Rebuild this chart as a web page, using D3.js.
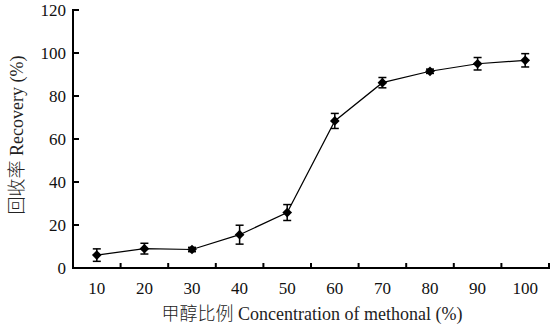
<!DOCTYPE html>
<html><head><meta charset="utf-8">
<script src="https://cdn.jsdelivr.net/npm/d3@7/dist/d3.min.js"></script>
<style>
body{margin:0;background:#fff;}
</style></head>
<body><svg id="c" width="557" height="331"></svg>
<script>
const categories = ["10","20","30","40","50","60","70","80","90","100"];
const recovery = [6.0, 9.0, 8.6, 15.5, 25.8, 68.4, 86.2, 91.5, 95.0, 96.6];
const errors = [2.9, 2.5, 1.0, 4.4, 3.7, 3.5, 2.4, 1.0, 2.9, 3.1];
const yTicks = [0, 20, 40, 60, 80, 100, 120];

const SERIF = '"Liberation Serif", "Times New Roman", "DejaVu Serif", serif';
const svg = d3.select("#c");
const L = 73, R = 549, T = 10, B = 268;
const x = d3.scaleBand().domain(categories).range([L, R]);
const y = d3.scaleLinear().domain([0, 120]).range([B, T]);

// axes
const xAxis = d3.axisBottom(x).tickSize(0).tickPadding(14);
const gx = svg.append("g").attr("transform", `translate(0,${B})`).call(xAxis);
gx.select(".domain").remove();
gx.attr("font-family", null).attr("font-size", null);
gx.selectAll("text").style("font-size", "17px").style("font-family", SERIF).attr("fill", "#111");

// tick marks at band boundaries, pointing inward
const bounds = categories.map(c => x(c) + x.bandwidth());
svg.append("g").selectAll("line").data(bounds).join("line")
  .attr("x1", d => d).attr("x2", d => d).attr("y1", B).attr("y2", B - 5)
  .attr("stroke", "#000").attr("stroke-width", 2);

const yAxis = d3.axisLeft(y).tickValues(yTicks).tickSize(0).tickPadding(7);
const gy = svg.append("g").attr("transform", `translate(${L},0)`).call(yAxis);
gy.select(".domain").remove();
gy.attr("font-family", null).attr("font-size", null);
gy.selectAll("text").style("font-size", "17px").style("font-family", SERIF).attr("fill", "#111");
svg.append("g").selectAll("line").data(yTicks).join("line")
  .attr("x1", L).attr("x2", L + 6).attr("y1", d => y(d)).attr("y2", d => y(d))
  .attr("stroke", "#000").attr("stroke-width", 2);

svg.append("line").attr("x1", L).attr("x2", L).attr("y1", T - 1).attr("y2", B + 1)
  .attr("stroke", "#000").attr("stroke-width", 2);
svg.append("line").attr("x1", L - 1).attr("x2", R + 1).attr("y1", B).attr("y2", B)
  .attr("stroke", "#000").attr("stroke-width", 2);

// data
const data = categories.map((c, i) => ({c, v: recovery[i], e: errors[i]}));
const cx = d => x(d.c) + x.bandwidth() / 2;

const line = d3.line().x(cx).y(d => y(d.v));
svg.append("path").datum(data).attr("d", line)
  .attr("fill", "none").attr("stroke", "#000").attr("stroke-width", 1.2);

const eb = svg.append("g").attr("stroke", "#000").attr("stroke-width", 1.5);
eb.selectAll(".v").data(data).join("line")
  .attr("x1", cx).attr("x2", cx)
  .attr("y1", d => y(d.v + d.e)).attr("y2", d => y(d.v - d.e));
eb.selectAll(".t").data(data).join("line")
  .attr("x1", d => cx(d) - 4).attr("x2", d => cx(d) + 4)
  .attr("y1", d => y(d.v + d.e)).attr("y2", d => y(d.v + d.e));
eb.selectAll(".b").data(data).join("line")
  .attr("x1", d => cx(d) - 4).attr("x2", d => cx(d) + 4)
  .attr("y1", d => y(d.v - d.e)).attr("y2", d => y(d.v - d.e));

const diamond = d3.symbol().type(d3.symbolDiamond2).size(60);
svg.append("g").selectAll("path").data(data).join("path")
  .attr("d", diamond)
  .attr("transform", d => `translate(${cx(d)},${y(d.v)})`)
  .attr("fill", "#000");

// titles
svg.append("text").attr("x", 312).attr("y", 320).attr("text-anchor", "middle")
  .style("font-size", "18px").style("font-family", SERIF).attr("fill", "#222")
  .html('<tspan style="font-family:\'Noto Sans CJK SC\'; font-weight:300">甲醇比例</tspan> Concentration of methonal (%)');
svg.append("text").attr("transform", "translate(23,135) rotate(-90)").attr("text-anchor", "middle")
  .style("font-size", "18px").style("font-family", SERIF).attr("fill", "#222")
  .html('<tspan style="font-family:\'Noto Sans CJK SC\'; font-weight:300">回收率</tspan> Recovery (%)');
</script></body></html>
